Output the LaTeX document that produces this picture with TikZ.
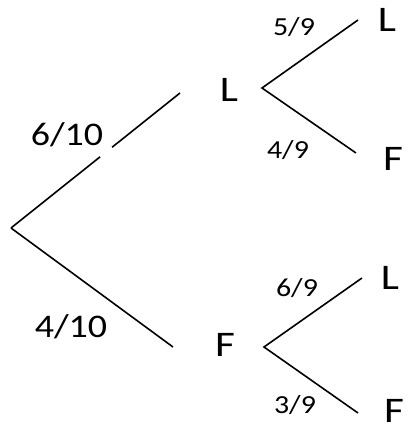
\documentclass[tikz,border=0pt]{standalone}
\usepackage{fontspec}
\usepackage{graphicx}
\usetikzlibrary{calc}
\setmainfont{Carlito}
\begin{document}
\begin{tikzpicture}[x=1pt,y=1pt,
  branch/.style={line width=1.6pt, black},
  lettr/.style={inner sep=0pt, font=\fontsize{36}{40}\selectfont},
  bigfrac/.style={inner sep=0pt, font=\fontsize{33}{38}\selectfont},
  smallfrac/.style={inner sep=0pt, font=\fontsize{26}{30}\selectfont}]
\useasboundingbox (0,0) rectangle (408,432);
% coordinates of branch ends
\coordinate (root) at (11,204);
\coordinate (uend) at (180,339);
\coordinate (lend) at (173,85);
\coordinate (g1) at ($(root)!0.527!(uend)$);
\coordinate (g2) at ($(root)!0.598!(uend)$);
\coordinate (b1) at (262,344);
\coordinate (b1u) at (358,412);
\coordinate (b1l) at (356,279);
\coordinate (b2) at (264,85);
\coordinate (b2u) at (362,154);
\coordinate (b2l) at (358,19);
% nodes
\node[lettr] (mL) at (229,342) {\scalebox{1.2}[1]{L}};
\node[lettr] (mF) at (225,87) {\scalebox{1.2}[1]{F}};
\node[lettr] (L1) at (387,412) {\scalebox{1.2}[1]{L}};
\node[lettr] (F1) at (393,273) {\scalebox{1.2}[1]{F}};
\node[lettr] (L2) at (390,154) {\scalebox{1.2}[1]{L}};
\node[lettr] (F2) at (394,21) {\scalebox{1.2}[1]{F}};
\node[bigfrac] (p1) at (67,297) {\scalebox{1.15}[1]{6/10}};
\node[bigfrac] (p2) at (71,105) {\scalebox{1.15}[1]{4/10}};
\node[smallfrac] (q1) at (294,405) {\scalebox{1.15}[1]{5/9}};
\node[smallfrac] (q2) at (288,282) {\scalebox{1.15}[1]{4/9}};
\node[smallfrac] (q3) at (297,144) {\scalebox{1.15}[1]{6/9}};
\node[smallfrac] (q4) at (295,27) {\scalebox{1.15}[1]{3/9}};
% connectors
\draw[branch] (root) -- (g1);
\draw[branch] (g2) -- (uend);
\draw[branch] (root) -- (lend);
\draw[branch] (b1u) -- (b1) -- (b1l);
\draw[branch] (b2u) -- (b2) -- (b2l);
\end{tikzpicture}
\end{document}
